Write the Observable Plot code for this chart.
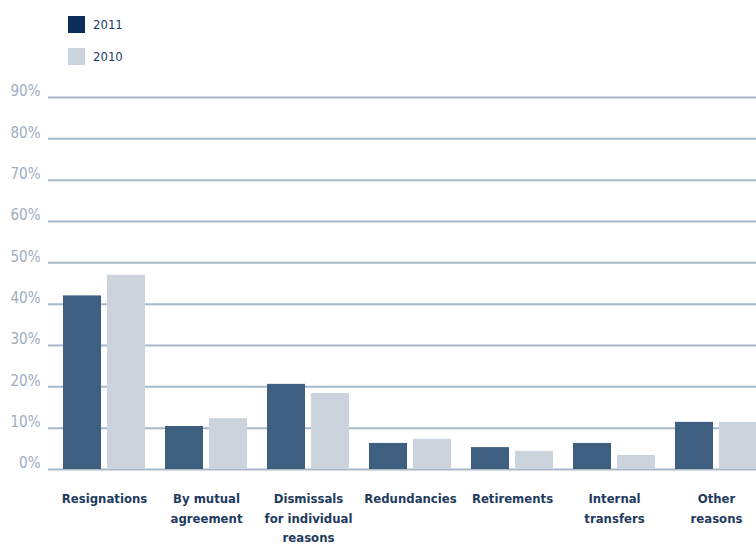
<!DOCTYPE html>
<html>
<head>
<meta charset="utf-8">
<script src="https://cdn.jsdelivr.net/npm/d3@7"></script>
<script src="https://cdn.jsdelivr.net/npm/@observablehq/plot@0.6"></script>
<style>
  html, body { margin: 0; padding: 0; background: #fff; overflow: hidden; width: 756px; height: 544px; }
  #legend { height: 80px; position: relative; font-family: "DejaVu Sans Condensed", "DejaVu Sans", sans-serif; font-size: 13px; color: #1d3d66; }
  .item { position: absolute; left: 68px; display: flex; align-items: center; }
  .sw { width: 17px; height: 17px; margin-right: 8px; }
  #chart svg { display: block; overflow: visible; max-width: none !important; }
</style>
</head>
<body>
<div id="legend"></div>
<div id="chart"></div>
<script>
const categories = ["Resignations", "By mutual\nagreement", "Dismissals\nfor individual\nreasons", "Redundancies", "Retirements", "Internal\ntransfers", "Other\nreasons"];
const values2011 = [42, 10.4, 20.6, 6.3, 5.3, 6.3, 11.4];
const values2010 = [47, 12.3, 18.4, 7.3, 4.4, 3.4, 11.4];
const yTicks = [0, 10, 20, 30, 40, 50, 60, 70, 80, 90];
const legendItems = [{label: "2011", color: "#0b2d5b"}, {label: "2010", color: "#cbd3dd"}];

const barColor2011 = "#3f5f81";
const barColor2010 = "#cbd3dd";

const legend = document.getElementById("legend");
legendItems.forEach((it, i) => {
  const div = document.createElement("div");
  div.className = "item";
  div.style.top = (16 + i * 32) + "px";
  div.innerHTML = `<span class="sw" style="background:${it.color}"></span><span>${it.label}</span>`;
  legend.appendChild(div);
});

const rows2011 = categories.map((c, i) => ({category: c, value: values2011[i]}));
const rows2010 = categories.map((c, i) => ({category: c, value: values2010[i]}));

const chart = Plot.plot({
  width: 772,
  height: 464,
  marginLeft: 48,
  marginRight: 0,
  marginTop: 17,
  marginBottom: 75,
  x: {domain: categories, paddingInner: 0.196, paddingOuter: 0.147, axis: null},
  y: {domain: [0, 90], axis: null},
  style: {fontFamily: "DejaVu Sans Condensed, DejaVu Sans, sans-serif", background: "transparent", maxWidth: "none"},
  marks: [
    Plot.ruleY(yTicks, {stroke: "#a9b8c8", strokeWidth: 2}),
    Plot.text(yTicks, {y: d => d, text: d => d + "%", frameAnchor: "left", textAnchor: "end", dx: -8, dy: -6, fill: "#9dadbf", fontSize: 15}),
    Plot.barY(rows2011, {x: "category", y: "value", fill: barColor2011, insetRight: 44}),
    Plot.barY(rows2010, {x: "category", y: "value", fill: barColor2010, insetLeft: 44}),
    Plot.text(categories, {x: d => d, text: d => d, frameAnchor: "bottom", lineAnchor: "top", dy: 20, lineHeight: 1.5, fill: "#1f3b5e", fontSize: 13, fontWeight: "bold"})
  ]
});
document.getElementById("chart").appendChild(chart);
</script>
</body>
</html>
